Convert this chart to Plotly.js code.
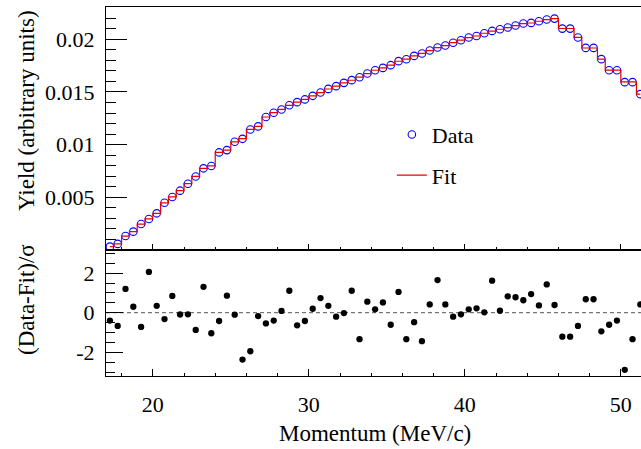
<!DOCTYPE html>
<html>
<head>
<meta charset="utf-8">
<script src="https://cdn.plot.ly/plotly-3.0.1.min.js"></script>
<style>
html, body { margin: 0; padding: 0; overflow: hidden; background: #fff; }
#chart { width: 660px; height: 449px; }
</style>
</head>
<body>
<div id="chart"></div>
<script>
// Bin centres (MeV/c)
var momentum = [17.25, 17.75, 18.25, 18.75, 19.25, 19.75, 20.25, 20.75, 21.25, 21.75,
  22.25, 22.75, 23.25, 23.75, 24.25, 24.75, 25.25, 25.75, 26.25, 26.75,
  27.25, 27.75, 28.25, 28.75, 29.25, 29.75, 30.25, 30.75, 31.25, 31.75,
  32.25, 32.75, 33.25, 33.75, 34.25, 34.75, 35.25, 35.75, 36.25, 36.75,
  37.25, 37.75, 38.25, 38.75, 39.25, 39.75, 40.25, 40.75, 41.25, 41.75,
  42.25, 42.75, 43.25, 43.75, 44.25, 44.75, 45.25, 45.75, 46.25, 46.75,
  47.25, 47.75, 48.25, 48.75, 49.25, 49.75, 50.25, 50.75, 51.25];

// Measured yield (arbitrary units)
var dataYield = [0.00032, 0.00058, 0.00133, 0.00174, 0.00247, 0.00294, 0.00348, 0.00449, 0.00503, 0.00563,
  0.00629, 0.00698, 0.00775, 0.00797, 0.00926, 0.00948, 0.01027, 0.01055, 0.01144, 0.01173,
  0.01262, 0.01303, 0.01334, 0.01373, 0.01403, 0.01429, 0.01463, 0.01495, 0.01529, 0.01555,
  0.01586, 0.01612, 0.01640, 0.01675, 0.01706, 0.01728, 0.01754, 0.01792, 0.01810, 0.01842,
  0.01865, 0.01893, 0.01921, 0.01941, 0.01967, 0.01991, 0.02016, 0.02031, 0.02057, 0.02079,
  0.02095, 0.02111, 0.02130, 0.02149, 0.02155, 0.02171, 0.02187, 0.02196, 0.02101, 0.02101,
  0.02016, 0.01918, 0.01918, 0.01811, 0.01706, 0.01706, 0.01593, 0.01593, 0.01479];

// Fitted yield per bin
var fitYield = [0.00032, 0.00058, 0.00132, 0.00175, 0.00246, 0.00295, 0.00348, 0.00448, 0.00504, 0.00563,
  0.00629, 0.00699, 0.00774, 0.00798, 0.00926, 0.00947, 0.01027, 0.01056, 0.01145, 0.01174,
  0.01262, 0.01304, 0.01334, 0.01372, 0.01404, 0.01430, 0.01463, 0.01494, 0.01528, 0.01556,
  0.01586, 0.01611, 0.01641, 0.01674, 0.01706, 0.01729, 0.01755, 0.01791, 0.01811, 0.01842,
  0.01866, 0.01892, 0.01920, 0.01940, 0.01967, 0.01991, 0.02016, 0.02031, 0.02057, 0.02078,
  0.02095, 0.02110, 0.02129, 0.02148, 0.02154, 0.02171, 0.02186, 0.02196, 0.02102, 0.02102,
  0.02017, 0.01917, 0.01917, 0.01812, 0.01707, 0.01707, 0.01596, 0.01595, 0.01479];

// Normalised residuals (Data-Fit)/sigma
var residual = [-0.40, -0.67, 1.20, 0.30, -0.72, 2.06, 0.35, -0.32, 0.85, -0.09,
  -0.08, -0.87, 1.31, -1.04, -0.42, 0.86, -0.10, -2.37, -1.95, -0.17,
  -0.54, -0.40, 0.09, 1.11, -0.64, -0.42, 0.20, 0.74, 0.35, -0.20,
  -0.02, 1.11, -1.34, 0.56, 0.17, 0.52, -0.61, 1.05, -1.34, -0.48,
  -1.44, 0.42, 1.65, 0.42, -0.20, -0.08, 0.17, 0.22, 0.02, 1.62,
  0.10, 0.83, 0.78, 0.63, 0.94, 0.37, 1.43, 0.39, -1.21, -1.21,
  -0.67, 0.68, 0.68, -0.94, -0.61, -0.40, -2.89, -1.34, 0.42];

// Tick labels
var xTickVals = [20, 30, 40, 50];
var xTickText = ["20", "30", "40", "50"];
var yTickVals = [0.005, 0.01, 0.015, 0.02];
var yTickText = ["0.005", "0.01", "0.015", "0.02"];
var rTickVals = [-2, 0, 2];
var rTickText = ["-2", "0", "2"];

var FONT = "Liberation Serif";

var traces = [
  {
    x: momentum, y: dataYield, type: "scatter", mode: "markers", name: "Data",
    legendgroup: "a",
    marker: { symbol: "circle-open", size: 7.5, color: "#0000ff", line: { width: 1.1, color: "#0000ff" } },
    xaxis: "x", yaxis: "y"
  },
  {
    x: momentum, y: fitYield, type: "scatter", mode: "lines", name: "Fit",
    legendgroup: "b",
    line: { shape: "hvh", color: "#ee0000", width: 1.2 },
    xaxis: "x", yaxis: "y"
  },
  {
    x: momentum, y: residual, type: "scatter", mode: "markers", name: "Residual",
    showlegend: false,
    marker: { symbol: "circle", size: 6.3, color: "#000000" },
    xaxis: "x2", yaxis: "y2"
  }
];

var split = (376 - 250) / 369;

function axisBase() {
  return {
    showline: true, linecolor: "#000", linewidth: 1, mirror: true,
    showgrid: false, zeroline: false, ticks: "inside", tickcolor: "#000",
    tickfont: { family: FONT, size: 22, color: "#000" }
  };
}

var layout = {
  width: 660, height: 449,
  margin: { l: 106, r: 0, t: 7, b: 73 },
  paper_bgcolor: "#fff", plot_bgcolor: "#fff",
  font: { family: FONT, color: "#000", size: 22 },
  showlegend: true,
  legend: {
    x: 0.516, xanchor: "left", y: 0.711, yanchor: "top",
    bgcolor: "rgba(0,0,0,0)", borderwidth: 0,
    font: { family: FONT, size: 22, color: "#000" },
    tracegroupgap: 9
  },
  xaxis: Object.assign(axisBase(), {
    domain: [0, 1], anchor: "y", range: [17, 52.51],
    tickvals: xTickVals, ticktext: xTickText, showticklabels: false,
    ticklen: 6,
    minor: { dtick: 2, ticklen: 3, ticks: "inside", tickcolor: "#000" }
  }),
  yaxis: Object.assign(axisBase(), {
    domain: [split, 1], anchor: "x", range: [0, 0.02306],
    tickvals: yTickVals, ticktext: yTickText,
    ticklen: 21, ticklabelstandoff: 6,
    minor: { dtick: 0.001, ticklen: 10, ticks: "inside", tickcolor: "#000" }
  }),
  xaxis2: Object.assign(axisBase(), {
    domain: [0, 1], anchor: "y2", range: [17, 52.51],
    tickvals: xTickVals, ticktext: xTickText,
    ticklen: 7, ticklabelstandoff: 9,
    minor: { dtick: 2, ticklen: 3.5, ticks: "inside", tickcolor: "#000" }
  }),
  yaxis2: Object.assign(axisBase(), {
    domain: [0, split], anchor: "x2", range: [-3.2, 3.17],
    tickvals: rTickVals, ticktext: rTickText,
    ticklen: 17, ticklabelstandoff: 6,
    minor: { dtick: 0.5, ticklen: 9, ticks: "inside", tickcolor: "#000" }
  }),
  shapes: [
    { type: "line", xref: "x2 domain", x0: 0, x1: 1, yref: "y2", y0: 0, y1: 0,
      layer: "below", line: { color: "#555", width: 1, dash: "4px,3px" } }
  ],
  annotations: [
    { text: "Yield (arbitrary units)", xref: "paper", yref: "paper",
      x: -0.1426, y: 0.7209, xanchor: "center", yanchor: "middle", textangle: -90,
      showarrow: false, font: { family: FONT, size: 23, color: "#000" } },
    { text: "(Data-Fit)/σ", xref: "paper", yref: "paper",
      x: -0.1426, y: 0.2087, xanchor: "center", yanchor: "middle", textangle: -90,
      showarrow: false, font: { family: FONT, size: 23, color: "#000" } },
    { text: "Momentum (MeV/c)", xref: "paper", yref: "paper",
      x: 0.4856, y: -0.157, xanchor: "center", yanchor: "middle",
      showarrow: false, font: { family: FONT, size: 23, color: "#000" } }
  ]
};

Plotly.newPlot("chart", traces, layout, { staticPlot: true, displayModeBar: false });
</script>
</body>
</html>
